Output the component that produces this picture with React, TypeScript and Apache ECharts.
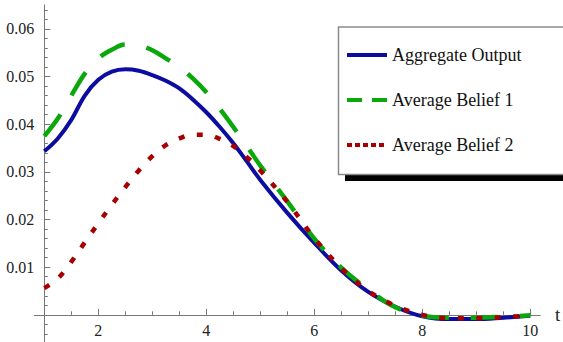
import React, { useEffect, useRef } from "react";
import * as echarts from "echarts";

const tValues = [1, 1.25, 1.5, 1.75, 2, 2.25, 2.5, 2.75, 3, 3.25, 3.5, 3.75, 4, 4.25, 4.5, 4.75, 5, 5.5, 6, 6.5, 7, 7.5, 8, 8.5, 9, 9.5, 10];
const aggregateOutput = [0.0343, 0.0370, 0.0409, 0.0460, 0.0493, 0.0510, 0.0515, 0.0512, 0.0503, 0.0491, 0.0475, 0.0452, 0.0425, 0.0394, 0.0360, 0.0322, 0.0283, 0.0214, 0.0151, 0.0093, 0.0048, 0.0017, -0.0003, -0.0009, -0.0009, -0.0006, -0.0002];
const averageBelief1 = [0.0375, 0.0412, 0.0460, 0.0506, 0.0538, 0.0556, 0.0567, 0.0565, 0.0555, 0.0538, 0.0520, 0.0496, 0.0467, 0.0432, 0.0394, 0.0354, 0.0313, 0.0238, 0.0160, 0.0099, 0.0053, 0.0016, -0.0002, -0.0006, -0.0006, -0.0004, -0.0001];
const averageBelief2 = [0.0056, 0.0076, 0.0111, 0.0152, 0.0192, 0.0231, 0.0268, 0.0303, 0.0333, 0.0356, 0.0370, 0.0378, 0.0378, 0.0369, 0.0354, 0.0331, 0.0303, 0.0237, 0.0161, 0.0098, 0.0050, 0.0019, 0.0000, -0.0007, -0.0007, -0.0005, -0.0001];

const seriesNames = ["Aggregate Output", "Average Belief 1", "Average Belief 2"];
const xLabelValues = [2, 4, 6, 8, 10];
const xMinorTicks = [1.5, 2.5, 3, 3.5, 4.5, 5, 5.5, 6.5, 7, 7.5, 8.5, 9, 9.5];
const yLabelValues = [0.01, 0.02, 0.03, 0.04, 0.05, 0.06];
const yMajorTicks = [0, 0.01, 0.02, 0.03, 0.04, 0.05, 0.06];
const yMinorTicks = [-0.004, -0.002, 0.002, 0.004, 0.006, 0.008, 0.012, 0.014, 0.016, 0.018, 0.022, 0.024, 0.026, 0.028, 0.032, 0.034, 0.036, 0.038, 0.042, 0.044, 0.046, 0.048, 0.052, 0.054, 0.056, 0.058, 0.062, 0.064];

const BLUE = "#0c0ca0";
const GREEN = "#0aa80a";
const RED = "#a80000";
const AXIS = "#777";
const FONT = "Liberation Serif";
const HIDDEN = { color: "rgba(0,0,0,0)", opacity: 0, borderWidth: 0 };

export default function App() {
  const ref = useRef<HTMLDivElement>(null);
  useEffect(() => {
    if (!ref.current) return;
    const chart = echarts.init(ref.current, null, { renderer: "svg" });
    const pairs = (vals: number[]) => tValues.map((t, i) => [t, vals[i]]);
    const xCommon = {
      type: "value",
      min: 0.82,
      max: 10.18,
      position: "bottom",
      axisLine: { show: true, onZero: true, onZeroAxisIndex: 0, lineStyle: { color: AXIS, width: 1 } },
      splitLine: { show: false },
    };
    const yCommon = {
      type: "value",
      min: -0.0057,
      max: 0.065,
      position: "left",
      offset: -9.7,
      axisLine: { show: true, onZero: false, lineStyle: { color: AXIS, width: 1 } },
      splitLine: { show: false },
    };
    const lineSeries = (name: string, vals: number[], color: string, width: number, type: any, z: number) => ({
      name,
      type: "line",
      data: pairs(vals),
      smooth: 0.35,
      showSymbol: false,
      symbol: "none",
      xAxisIndex: 0,
      yAxisIndex: 0,
      lineStyle: { color, width, type, cap: "butt" },
      itemStyle: { color },
      z,
    });
    chart.setOption({
      animation: false,
      backgroundColor: "#fff",
      textStyle: { fontFamily: FONT },
      grid: { left: 34.6, top: 5, width: 505.4, height: 337, containLabel: false, outerBoundsMode: "none" },
      xAxis: [
        {
          ...xCommon,
          name: "t",
          nameLocation: "end",
          nameGap: 15,
          nameTextStyle: { fontFamily: FONT, fontSize: 19, color: "#222" },
          axisTick: { show: true, inside: true, length: 6, customValues: xLabelValues, lineStyle: { color: AXIS } },
          axisLabel: { show: true, customValues: xLabelValues, margin: -19, fontFamily: FONT, fontSize: 16, lineHeight: 15, color: "#222", formatter: (v: number) => String(v) },
        },
        {
          ...xCommon,
          axisTick: { show: true, inside: true, length: 3.5, customValues: xMinorTicks, lineStyle: { color: AXIS } },
          axisLabel: { show: false },
        },
      ],
      yAxis: [
        {
          ...yCommon,
          axisTick: { show: true, inside: true, length: 6, customValues: yMajorTicks, lineStyle: { color: AXIS } },
          axisLabel: { show: true, customValues: yLabelValues, margin: 10, fontFamily: FONT, fontSize: 16, color: "#222", formatter: (v: number) => v.toFixed(2) },
        },
        {
          ...yCommon,
          axisTick: { show: true, inside: true, length: 3.5, customValues: yMinorTicks, lineStyle: { color: AXIS } },
          axisLabel: { show: false },
        },
      ],
      legend: {
        orient: "vertical",
        left: 345,
        top: 46,
        padding: 0,
        itemWidth: 40,
        itemHeight: 20,
        itemGap: 27,
        itemStyle: HIDDEN,
        textStyle: { fontFamily: FONT, fontSize: 18, color: "#111" },
        data: [
          { name: seriesNames[0], itemStyle: HIDDEN, lineStyle: { width: 4, type: "solid", color: BLUE } },
          { name: seriesNames[1], itemStyle: HIDDEN, lineStyle: { width: 4, type: [15, 10], color: GREEN } },
          { name: seriesNames[2], itemStyle: HIDDEN, lineStyle: { width: 4, type: [5, 3], color: RED } },
        ],
      },
      graphic: [
        { type: "rect", z: 0, shape: { x: 345, y: 32, width: 240, height: 149 }, style: { fill: "#000" } },
        { type: "rect", z: 1, shape: { x: 338.5, y: 27, width: 240, height: 147.5 }, style: { fill: "#fff", stroke: "#8a8a8a", lineWidth: 1.5 } },
      ],
      series: [
        lineSeries(seriesNames[0], aggregateOutput, BLUE, 4, "solid", 3),
        lineSeries(seriesNames[1], averageBelief1, GREEN, 4.5, [27, 22], 4),
        lineSeries(seriesNames[2], averageBelief2, RED, 4.5, [6, 12.5], 5),
      ],
    });
    return () => chart.dispose();
  }, []);
  return <div ref={ref} style={{ width: 563, height: 342, position: "fixed", left: 0, top: 0 }} />;
}
